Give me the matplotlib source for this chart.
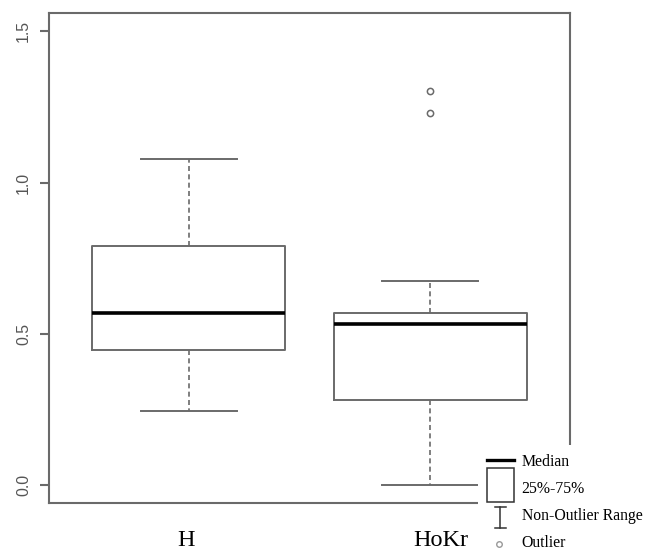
import matplotlib
matplotlib.use("Agg")
import matplotlib.pyplot as plt
from matplotlib.lines import Line2D
from matplotlib.patches import Rectangle
import matplotlib.transforms as mtransforms

# Values
groups = ["H", "HoKr"]
whisker_low = [0.244, 0.0]
q1 = [0.446, 0.280]
medians = [0.568, 0.534]
q3 = [0.791, 0.568]
whisker_high = [1.077, 0.676]
outliers = [[], [1.231, 1.303]]

y_ticks = [0.0, 0.5, 1.0, 1.5]
legend_labels = ["Median", "25%-75%", "Non-Outlier Range", "Outlier"]

GRAY = "#6a6a6a"
W, H = 645, 552


def fx(px):
    return px / W


def fy(py):
    return 1 - py / H


def main():
    fig = plt.figure(figsize=(W / 100, H / 100), dpi=100)
    ax = fig.add_axes([fx(49), fy(503.3), fx(570) - fx(49), fy(13.3) - fy(503.3)])

    stats = []
    for i, name in enumerate(groups):
        stats.append(
            {
                "label": name,
                "whislo": whisker_low[i],
                "q1": q1[i],
                "med": medians[i],
                "q3": q3[i],
                "whishi": whisker_high[i],
                "fliers": outliers[i],
            }
        )

    ax.bxp(
        stats,
        positions=[1, 2],
        widths=0.8,
        patch_artist=False,
        boxprops=dict(color=GRAY, linewidth=1.4),
        medianprops=dict(color="black", linewidth=2.6, solid_capstyle="butt"),
        whiskerprops=dict(color=GRAY, linewidth=1.2, linestyle=(0, (3, 2))),
        capprops=dict(color=GRAY, linewidth=1.4),
        flierprops=dict(marker="o", markerfacecolor="none", markeredgecolor=GRAY,
                        markersize=4.5, markeredgewidth=1.1),
        capwidths=0.4,
    )

    ax.set_xlim(0.42, 2.58)
    ax.set_ylim(-0.06, 1.56)

    for s in ax.spines.values():
        s.set_color(GRAY)
        s.set_linewidth(1.5)

    ax.set_yticks(y_ticks)
    ax.set_yticklabels([f"{t:.1f}" for t in y_ticks], rotation=90, va="center",
                       family="Liberation Sans", fontsize=11.4, color="#555555")
    ax.tick_params(axis="y", length=6.5, width=1.5, color=GRAY, pad=6.5)
    ax.set_xticks([])

    # Group names in a serif face below the boxes (nudged as in the original)
    nudge_px = [-3, 11]
    for i, name in enumerate(groups):
        trans = mtransforms.blended_transform_factory(ax.transData, fig.transFigure)
        trans = trans + mtransforms.ScaledTranslation(nudge_px[i] / 100, 0, fig.dpi_scale_trans)
        ax.text(i + 1, fy(541), name, transform=trans, ha="center", va="center",
                family="Liberation Serif", fontsize=17.5, clip_on=False)

    # White key panel over the lower right corner
    fig.add_artist(Rectangle((fx(478), 0), 1 - fx(478), fy(445), transform=fig.transFigure,
                             facecolor="white", edgecolor="none", zorder=5))
    fig.add_artist(Line2D([fx(486.5), fx(514)], [fy(460), fy(460)], color="black",
                          linewidth=2.4, zorder=6))
    fig.add_artist(Rectangle((fx(487), fy(501.5)), fx(514) - fx(487), fy(468) - fy(501.5),
                             transform=fig.transFigure, facecolor="white",
                             edgecolor="#333333", linewidth=1.1, zorder=6))
    fig.add_artist(Line2D([fx(500), fx(500)], [fy(506.5), fy(528)], color="#333333",
                          linewidth=1.1, zorder=6))
    for cy in (506.5, 528):
        fig.add_artist(Line2D([fx(495), fx(505.5)], [fy(cy), fy(cy)], color="#333333",
                              linewidth=1.1, zorder=6))
    fig.add_artist(Line2D([fx(499)], [fy(544)], marker="o", markerfacecolor="none",
                          markeredgecolor="#999999", markersize=4, markeredgewidth=1,
                          linestyle="none", zorder=6))
    for label, cy in zip(legend_labels, [462, 489, 516, 543]):
        fig.text(fx(521.5), fy(cy), label, ha="left", va="center",
                 family="Liberation Serif", fontsize=11.3, zorder=7)

    fig.savefig("out.png", dpi=100)


if __name__ == "__main__":
    main()
